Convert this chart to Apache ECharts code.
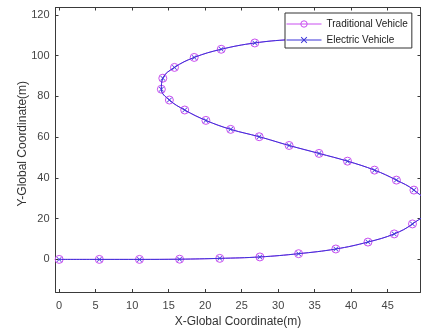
<!DOCTYPE html>
<html>
<head>
<meta charset="utf-8">
<script src="https://cdn.jsdelivr.net/npm/echarts@6/dist/echarts.min.js"></script>
<style>
html,body{margin:0;padding:0;background:#fff;}
#c{width:422px;height:333px;}
</style>
</head>
<body>
<div id="c"></div>
<script>
// Tick labels
const xTicks = [0, 5, 10, 15, 20, 25, 30, 35, 40, 45];
const yTicks = [0, 20, 40, 60, 80, 100, 120];

// Traditional Vehicle trajectory (marker points)
const tradX = [0, 5.5, 11, 16.5, 22, 27.5, 32.8, 37.9, 42.3, 45.9, 48.4, 50.8,
  48.6, 46.2, 43.2, 39.5, 35.6, 31.5, 27.4, 23.5, 20.1, 17.2, 15.1, 14.0, 14.2, 15.8, 18.5, 22.2, 26.8, 31.5, 36.5];
const tradY = [0, 0, 0, 0.1, 0.5, 1.2, 2.8, 5.1, 8.5, 12.5, 17.4, 25.5,
  34.0, 38.9, 43.8, 48.2, 52.0, 55.9, 60.2, 63.8, 68.2, 73.3, 78.2, 83.5, 88.9, 94.2, 99.1, 103.1, 106.2, 107.8, 108.3];

// Electric Vehicle trajectory (marker points)
const elecX = [0, 5.5, 11, 16.5, 22, 27.5, 32.8, 37.9, 42.3, 45.9, 48.4, 50.8,
  48.6, 46.2, 43.2, 39.5, 35.6, 31.5, 27.4, 23.5, 20.1, 17.2, 15.1, 14.0, 14.2, 15.8, 18.5, 22.2, 26.8, 31.5, 36.5];
const elecY = [0, 0, 0, 0.1, 0.5, 1.2, 2.8, 5.1, 8.5, 12.5, 17.4, 25.5,
  34.0, 38.9, 43.8, 48.2, 52.0, 55.9, 60.2, 63.8, 68.2, 73.3, 78.2, 83.5, 88.9, 94.2, 99.1, 103.1, 106.2, 107.8, 108.3];

const seriesNames = ['Traditional Vehicle', 'Electric Vehicle'];

const pairs = (xs, ys) => xs.map((x, i) => [x, ys[i]]);

const axisColor = '#3a3a3a';
const labelColor = '#444';
const font = 'Arial, "Liberation Sans", sans-serif';

const xMin = -0.5, xMax = 49.5, yMin = -16, yMax = 123.6;

const chart = echarts.init(document.getElementById('c'), null, {renderer: 'canvas'});
const xBase = {
  type: 'value', min: xMin, max: xMax,
  splitLine: {show: false},
  axisLine: {show: true, onZero: false, lineStyle: {color: axisColor, width: 1}},
  axisTick: {show: true, inside: true, length: 3, customValues: xTicks, lineStyle: {color: axisColor}},
};
const yBase = {
  type: 'value', min: yMin, max: yMax,
  splitLine: {show: false},
  axisLine: {show: true, onZero: false, lineStyle: {color: axisColor, width: 1}},
  axisTick: {show: true, inside: true, length: 3, customValues: yTicks, lineStyle: {color: axisColor}},
};
const xSymbol = 'path://M0,1L1,0L5,4L9,0L10,1L6,5L10,9L9,10L5,6L1,10L0,9L4,5Z';
const magenta = '#c94ef0';
const blue = '#3b33d8';

chart.setOption({
  animation: false,
  backgroundColor: '#fff',
  grid: {left: 55.5, right: 1.5, top: 7.5, bottom: 38.5, containLabel: false},
  legend: {
    show: true,
    orient: 'vertical',
    left: 285, top: 13,
    backgroundColor: '#fff',
    borderColor: '#333',
    borderWidth: 1,
    borderRadius: 0,
    padding: [6, 4, 3, 1],
    itemWidth: 35, itemHeight: 8, itemGap: 6,
    lineStyle: {width: 1},
    itemStyle: {borderWidth: 1},
    textStyle: {fontFamily: font, fontSize: 10, color: '#1a1a1a'},
    data: seriesNames
  },
  xAxis: [
    Object.assign({}, xBase, {
      position: 'bottom',
      name: 'X-Global Coordinate(m)', nameLocation: 'middle', nameGap: 24,
      nameMoveOverlap: false,
      nameTextStyle: {fontFamily: font, fontSize: 12, color: '#333'},
      axisLabel: {show: true, customValues: xTicks, margin: 8, fontFamily: font, fontSize: 11, color: labelColor}
    }),
    Object.assign({}, xBase, {position: 'top', axisLabel: {show: false}})
  ],
  yAxis: [
    Object.assign({}, yBase, {
      position: 'left',
      name: 'Y-Global Coordinate(m)', nameLocation: 'middle', nameGap: 27,
      nameMoveOverlap: false,
      nameTextStyle: {fontFamily: font, fontSize: 12, color: '#333', padding: [0, 0, 0, 12]},
      axisLabel: {show: true, customValues: yTicks, margin: 6, fontFamily: font, fontSize: 11, color: labelColor}
    }),
    Object.assign({}, yBase, {position: 'right', axisLabel: {show: false}})
  ],
  series: [
    {
      name: seriesNames[0], type: 'line', xAxisIndex: 0, yAxisIndex: 0,
      data: pairs(tradX, tradY),
      smooth: 0.4, clip: true,
      symbol: 'circle', symbolSize: 8,
      lineStyle: {color: magenta, width: 1},
      itemStyle: {color: 'rgba(255,255,255,0)', borderColor: magenta, borderWidth: 1},
      z: 2
    },
    {
      name: seriesNames[1], type: 'line', xAxisIndex: 0, yAxisIndex: 0,
      data: pairs(elecX, elecY),
      smooth: 0.4, clip: true,
      symbol: xSymbol, symbolSize: 5,
      lineStyle: {color: blue, width: 1},
      itemStyle: {color: blue, borderWidth: 0},
      z: 3
    }
  ]
});
</script>
</body>
</html>
